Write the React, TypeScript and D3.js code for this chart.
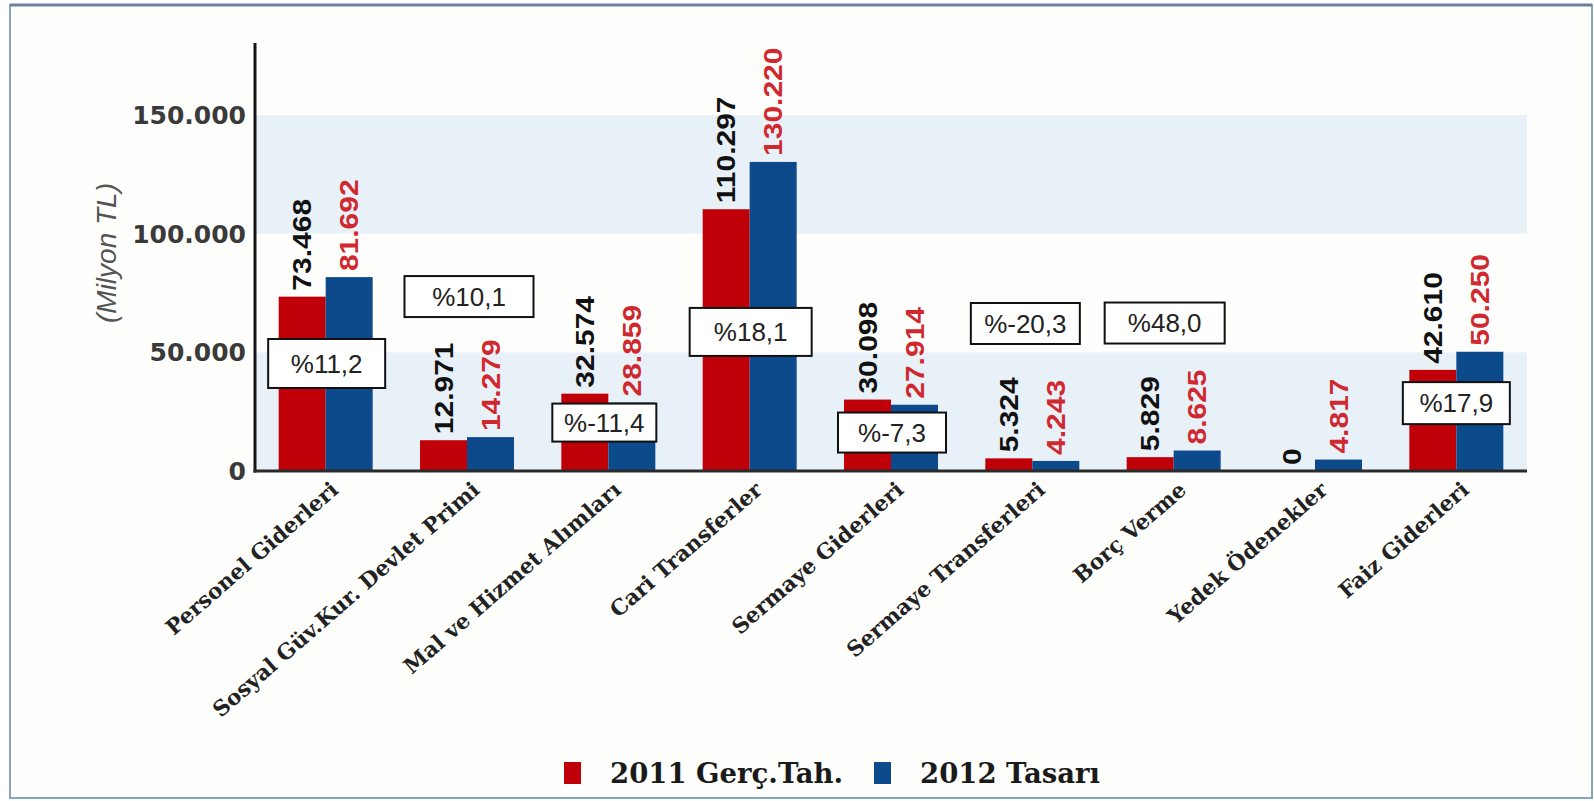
import React, { useEffect } from "react";
import * as d3 from "d3";

// ---- data ----
const categories = [
  "Personel Giderleri",
  "Sosyal Güv.Kur. Devlet Primi",
  "Mal ve Hizmet Alımları",
  "Cari Transferler",
  "Sermaye Giderleri",
  "Sermaye Transferleri",
  "Borç Verme",
  "Yedek Ödenekler",
  "Faiz Giderleri",
];
const values2011 = [73468, 12971, 32574, 110297, 30098, 5324, 5829, 0, 42610];
const values2012 = [81692, 14279, 28859, 130220, 27914, 4243, 8625, 4817, 50250];
const changeLabels = ["%11,2", "%10,1", "%-11,4", "%18,1", "%-7,3", "%-20,3", "%48,0", "", "%17,9"];
const seriesNames = ["2011 Gerç.Tah.", "2012 Tasarı"];
const yTicks = [0, 50000, 100000, 150000];
const yTitle = "(Milyon TL)";

// ---- layout of the change boxes (offset from group centre, y in data units, box size) ----
const boxLayout = [
  { dx: 1, yv: 45300, w: 117, h: 49 },
  { dx: 2, yv: 73500, w: 129, h: 41 },
  { dx: -4, yv: 20400, w: 104, h: 38 },
  { dx: 1, yv: 58600, w: 122, h: 48 },
  { dx: 1, yv: 16200, w: 108, h: 40 },
  { dx: -7, yv: 62150, w: 109, h: 41 },
  { dx: -9, yv: 62350, w: 120, h: 41 },
  null,
  { dx: 0, yv: 28600, w: 107, h: 42 },
];

const W = 1594;
const H = 801;
const RED = "#c00008";
const BLUE = "#0c4a8c";
const BAND = "#e8f0f8";

const locale = d3.formatLocale({ decimal: ",", thousands: ".", grouping: [3], currency: ["", ""] });
const fmt = locale.format(",d");

export default function App() {
  useEffect(() => {
    document.body.style.margin = "0";
    document.body.style.overflow = "hidden";
  }, []);

  const x = d3
    .scaleBand<string>()
    .domain(categories)
    .range([255, 1527])
    .paddingInner(0.335)
    .paddingOuter(0.1675);
  const sub = d3.scaleBand<number>().domain([0, 1]).range([0, x.bandwidth()]);
  const y = d3.scaleLinear().domain([0, 150000]).range([471, 115]);
  const yTop = y(180300);

  const bands: [number, number][] = [];
  for (let i = 0; i + 1 < yTicks.length; i += 2) bands.push([yTicks[i], yTicks[i + 1]]);

  const series = [values2011, values2012];
  const colors = [RED, BLUE];
  const labelColors = ["#111", "#d0282f"];

  return (
    <svg width={W} height={H} style={{ position: "absolute", left: 0, top: 0, background: "#fff" }}>
      {/* frame */}
      <rect x={10} y={5} width={1582} height={793} fill="#fefffd" stroke="#86a3bf" strokeWidth={2} />
      <line x1={10} x2={1592} y1={5} y2={5} stroke="#6b8197" strokeWidth={3} />

      {/* bands */}
      {bands.map(([a, b], i) => (
        <rect key={"b" + i} x={255} width={1527 - 255} y={y(b)} height={y(a) - y(b)} fill={BAND} />
      ))}

      {/* bars */}
      {categories.map((c, i) =>
        series.map((s, k) =>
          s[i] > 0 ? (
            <rect
              key={c + k}
              x={(x(c) as number) + (sub(k) as number)}
              width={sub.bandwidth()}
              y={y(s[i])}
              height={y(0) - y(s[i])}
              fill={colors[k]}
            />
          ) : null
        )
      )}

      {/* value labels */}
      {categories.map((c, i) =>
        series.map((s, k) => {
          const cx = (x(c) as number) + (sub(k) as number) + sub.bandwidth() / 2;
          const cy = y(s[i]) - 6;
          return (
            <text
              key={"v" + c + k}
              transform={`translate(${cx},${cy}) rotate(-90) scale(1.2,1)`}
              dy="0.36em"
              textAnchor="start"
              fontFamily="'Liberation Sans', Arial, sans-serif"
              fontWeight="bold"
              fontSize={25}
              fill={labelColors[k]}
            >
              {fmt(s[i])}
            </text>
          );
        })
      )}

      {/* axes */}
      <line x1={255} x2={255} y1={yTop} y2={y(0) + 1.5} stroke="#151515" strokeWidth={3} />
      <line x1={253.5} x2={1527} y1={y(0)} y2={y(0)} stroke="#2a2a2a" strokeWidth={3} />
      {yTicks.map((t) => (
        <text
          key={"t" + t}
          x={246}
          y={y(t)}
          dy="0.36em"
          textAnchor="end"
          fontFamily="'DejaVu Sans', Verdana, sans-serif"
          fontWeight="bold"
          fontSize={25}
          fill="#3a3a3a"
        >
          {fmt(t)}
        </text>
      ))}
      <text
        transform={`translate(106,253) rotate(-90)`}
        dy="0.35em"
        textAnchor="middle"
        fontFamily="'Liberation Sans', Arial, sans-serif"
        fontStyle="italic"
        fontSize={28}
        fill="#555"
      >
        {yTitle}
      </text>

      {/* category labels */}
      {categories.map((c) => {
        const cx = (x(c) as number) + x.bandwidth() / 2;
        return (
          <text
            key={"c" + c}
            transform={`translate(${cx + 14},${y(0) + 21}) rotate(-41)`}
            textAnchor="end"
            fontFamily="'DejaVu Serif', Georgia, serif"
            fontWeight="bold"
            fontSize={21.5}
            fill="#222"
          >
            {c}
          </text>
        );
      })}

      {/* change boxes */}
      {categories.map((c, i) => {
        const L = boxLayout[i];
        if (!L || !changeLabels[i]) return null;
        const cx = (x(c) as number) + x.bandwidth() / 2 + L.dx;
        const cy = y(L.yv);
        return (
          <g key={"p" + c}>
            <rect x={cx - L.w / 2} y={cy - L.h / 2} width={L.w} height={L.h} fill="#fff" stroke="#111" strokeWidth={2} />
            <text
              x={cx}
              y={cy}
              dy="0.36em"
              textAnchor="middle"
              fontFamily="'Liberation Sans', Arial, sans-serif"
              fontSize={26}
              fill="#222"
            >
              {changeLabels[i]}
            </text>
          </g>
        );
      })}

      {/* legend */}
      {seriesNames.map((n, k) => {
        const lx = [564, 874][k];
        return (
          <g key={"l" + k}>
            <rect x={lx} y={762} width={17} height={22} fill={colors[k]} />
            <text
              x={lx + 46}
              y={783}
              fontFamily="'DejaVu Serif', Georgia, serif"
              fontWeight="bold"
              fontSize={27.5}
              fill="#1a1a1a"
            >
              {n}
            </text>
          </g>
        );
      })}
    </svg>
  );
}
